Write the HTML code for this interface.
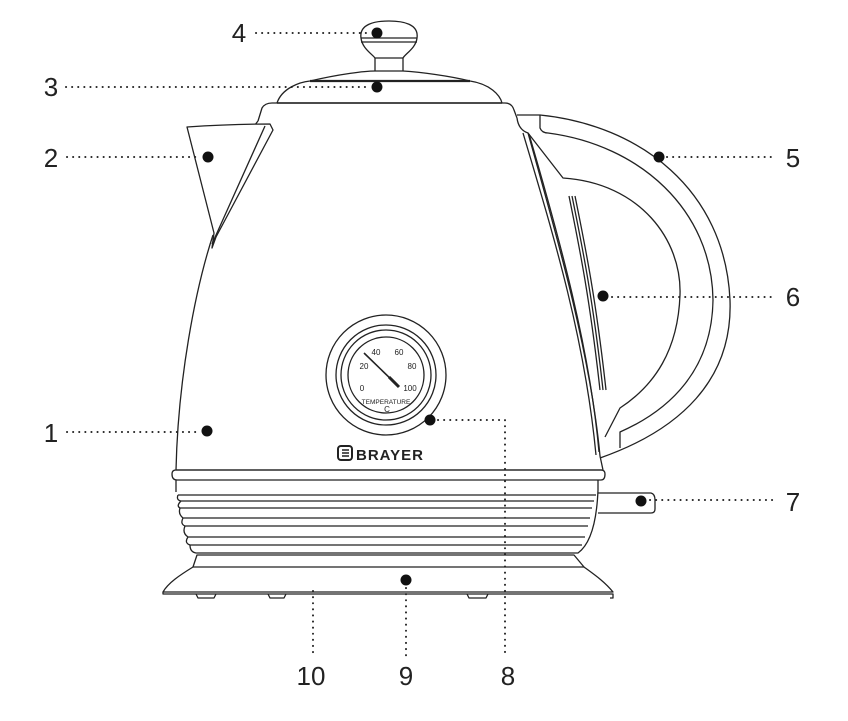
<!DOCTYPE html>
<html><head><meta charset="utf-8"><style>
html,body{margin:0;padding:0;background:#fff;}
svg{display:block;}
text{font-family:"Liberation Sans",sans-serif;fill:#222;}
</style></head><body>
<svg width="848" height="721" viewBox="0 0 848 721" xmlns="http://www.w3.org/2000/svg">
<g fill="none" stroke="#222" stroke-width="1.3" stroke-linejoin="round">
<!-- knob -->
<path d="M361,38 C359,24 375,21 389,21 C403,21 419,24 417,38 C416,48 405,54 403,58 L375,58 C372,54 362,48 361,38 Z" fill="#fff"/>
<line x1="361" y1="38" x2="417" y2="38"/><line x1="361" y1="42" x2="417" y2="42"/>
<line x1="375" y1="58" x2="375" y2="71"/><line x1="403" y1="58" x2="403" y2="71"/>
<!-- lid -->
<path d="M277,103 C282,88 300,82 310,81 C340,74 365,71 375,71 L403,71 C420,72 450,76 470,81 C490,84 500,95 502,103"/>
<line x1="310" y1="81" x2="470" y2="81" stroke-width="2.2"/>
<line x1="277" y1="103" x2="502" y2="103" stroke-width="1.6"/>
<!-- body -->
<path d="M258,121 L262,108 Q265,103 272,103 L505,103 Q512,103 514,110 L517,118"/>
<path d="M258,121 L254,126 M213,235 C195,290 178,380 176,470"/>
<path d="M517,118 C518,126 522,131 528,133 C555,230 590,350 600,456 L603,470"/>
<path d="M523,133 C555,240 585,340 596,455"/>
<path d="M529,134 C560,240 590,350 599,452"/>
<!-- spout -->
<path d="M187,127 Q230,124 270,124 L273,130 L216,237 L212,248 L214,233 Z" fill="#fff"/>
<path d="M265,126 L212,244"/>
<!-- handle -->
<path d="M517,115 L540,115 C640,125 725,190 730,300 C733,380 680,430 600,458" />
<path d="M540,115 L540,128 Q542,133 548,133 C640,145 712,210 713,300 C712,370 670,410 620,432 L620,448"/>
<path d="M528,133 L563,178 C640,183 682,240 680,295 C678,350 655,385 620,408 L605,437"/>
<path d="M569,196 C580,250 590,300 600,390 M572,196 C583,250 593,300 603,390 M575,196 C586,250 596,300 606,390"/>
<!-- thermometer -->
<circle cx="386" cy="375" r="60"/>
<circle cx="386" cy="375" r="50"/>
<circle cx="386" cy="375" r="45"/>
<circle cx="386" cy="375" r="38"/>
<line x1="364" y1="353" x2="396" y2="384" stroke-width="1.6"/>
<line x1="389" y1="377" x2="399" y2="387" stroke-width="3"/>
<!-- band and ribs -->
<path d="M176,470 Q172,470 172,474 Q172,480 177,480 L601,480 Q605,480 605,474 Q605,470 601,470 Z" fill="#fff"/>
<line x1="176" y1="470" x2="602" y2="470"/>
<path d="M176,480 L176,492 M598,480 L598,490"/>
<path d="M178,495 Q176,500 181,501 Q176,506 180,508 L592,508 M178,495 L596,495 M181,501 L594,501"/>
<path d="M180,508 Q178,514 183,518 Q180,524 185,526 L588,526 M183,518 L590,518"/>
<path d="M185,526 Q182,533 188,537 Q184,543 190,545 L582,545 M188,537 L585,537"/>
<path d="M190,545 Q190,552 196,553 L578,553 Q596,540 598,490"/>
<!-- base -->
<path d="M197,555 L574,555 L584,567 L193,567 Z"/>
<path d="M193,567 C180,575 168,583 163,592 L613,592 C605,582 595,575 584,567"/>
<path d="M163,592 L163,594 L613,594 L613,598 L610,598"/>
<path d="M196,594 L198,598 L214,598 L216,594 M268,594 L270,598 L284,598 L286,594 M467,594 L469,598 L486,598 L488,594"/>
<!-- connector -->
<path d="M598,493 L651,493 Q655,494 655,500 L655,509 Q655,513 651,513 L598,513"/>
</g>
<!-- thermometer text -->
<g font-size="8" text-anchor="middle">
<text x="376" y="355">40</text><text x="399" y="355">60</text>
<text x="364" y="369">20</text><text x="412" y="369">80</text>
<text x="362" y="391">0</text><text x="410" y="391">100</text>
<text x="386" y="404" font-size="6.5">TEMPERATURE</text>
<text x="387" y="412" font-size="8">C</text>
</g>
<!-- logo -->
<rect x="338" y="446" width="14" height="14" rx="3" fill="none" stroke="#222" stroke-width="2"/>
<path d="M342,450 L349,450 M342,453 L349,453 M342,456 L349,456" stroke="#222" stroke-width="1.5"/>
<text x="356" y="460" font-size="15" font-weight="bold" letter-spacing="1">BRAYER</text>
<!-- leader dots -->
<g stroke="#222" stroke-width="2" stroke-linecap="round" stroke-dasharray="0.1 6" fill="none">
<line x1="256" y1="33" x2="370" y2="33"/>
<line x1="66" y1="87" x2="370" y2="87"/>
<line x1="67" y1="157" x2="200" y2="157"/>
<line x1="667" y1="157" x2="776" y2="157"/>
<line x1="612" y1="297" x2="776" y2="297"/>
<line x1="67" y1="432" x2="200" y2="432"/>
<line x1="650" y1="500" x2="776" y2="500"/>
<path d="M438,420 L505,420 L505,656"/>
<line x1="406" y1="588" x2="406" y2="656"/>
<line x1="313" y1="591" x2="313" y2="656"/>
</g>
<g fill="#111">
<circle cx="377" cy="33" r="5.5"/><circle cx="377" cy="87" r="5.5"/>
<circle cx="208" cy="157" r="5.5"/><circle cx="659" cy="157" r="5.5"/>
<circle cx="603" cy="296" r="5.5"/><circle cx="207" cy="431" r="5.5"/>
<circle cx="430" cy="420" r="5.5"/><circle cx="641" cy="501" r="5.5"/>
<circle cx="406" cy="580" r="5.5"/>
</g>
<g font-size="26" text-anchor="middle">
<text x="239" y="42">4</text>
<text x="51" y="96">3</text>
<text x="51" y="167">2</text>
<text x="793" y="167">5</text>
<text x="793" y="306">6</text>
<text x="51" y="442">1</text>
<text x="793" y="511">7</text>
<text x="311" y="685">10</text>
<text x="406" y="685">9</text>
<text x="508" y="685">8</text>
</g>
</svg>
</body></html>
